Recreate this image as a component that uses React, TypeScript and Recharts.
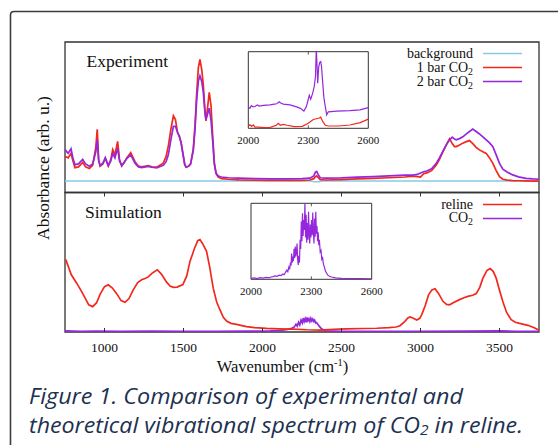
import React from 'react';
import { LineChart, Line, XAxis, YAxis, ReferenceArea } from 'recharts';

const W = 558;
const H = 445;
const RED = '#f2281c';
const PURPLE = '#9527dc';
const BLUE = '#87c9e8';
const FRAME = '#333333';
const SERIF = '"Liberation Serif", "DejaVu Serif", serif';

// ---------- Experiment panel (wavenumber, absorbance in arb. u.) ----------
const expWavenumber = [
  750, 770, 788, 800, 813, 835, 862, 880, 904, 925,
  945, 954, 963, 972, 990, 1005, 1024, 1040, 1052, 1066,
  1083, 1095, 1109, 1125, 1141, 1166, 1193, 1215, 1235, 1277,
  1300, 1330, 1372, 1390, 1404, 1420, 1436, 1449, 1462, 1474,
  1485, 1496, 1508, 1517, 1533, 1545, 1562, 1573, 1583, 1594,
  1604, 1615, 1625, 1636, 1642, 1652, 1663, 1674, 1685, 1695,
  1706, 1720, 1740, 1784, 1850, 1950, 2050, 2150, 2250, 2300,
  2325, 2335, 2343, 2352, 2365, 2400, 2500, 2600, 2700, 2800,
  2900, 2952, 2980, 3000, 3020, 3040, 3070, 3100, 3120, 3142,
  3165, 3184, 3201, 3215, 3226, 3247, 3268, 3290, 3310, 3331,
  3352, 3373, 3395, 3416, 3437, 3458, 3479, 3500, 3521, 3550,
  3584, 3620, 3668, 3710, 3750,
];
const exp1bar = [
  24, 23, 26, 21, 16.5, 17, 20, 17, 16, 18,
  30, 42, 22, 17.5, 19, 23, 17.5, 22, 28.5, 25,
  34, 22, 17.5, 20, 23, 26.5, 20.5, 17.5, 17, 17.8,
  17, 16.8, 19.5, 24, 31, 42, 51, 48.5, 40, 37.5,
  33, 26, 18.5, 16.8, 17.5, 19, 29, 45, 65, 83,
  88.5, 82, 72, 54, 47.5, 56, 66.5, 58, 37, 20,
  12.5, 10.2, 9.2, 8.8, 8.4, 8.2, 8.0, 8.0, 8.1, 8.3,
  9.2, 10.5, 11, 10, 8.6, 8.3, 8.6, 9, 9.4, 9.8,
  10.3, 10.8, 10.5, 10.3, 12.5, 13, 14.5, 18.3, 22, 27.2,
  32, 35.7, 32.5, 30.5, 30.5, 31.5, 32.8, 33.8, 34.5, 32.5,
  30, 28.3, 27, 26, 23, 19.4, 14.5, 10.5, 8.8, 8.2,
  7.9, 7.8, 7.7, 7.6, 7.6,
];
const exp2bar = [
  28.5, 26, 29, 23, 18.5, 19, 22, 19, 17.5, 19,
  27, 35, 21, 18, 19.5, 23, 18, 21, 26, 23,
  29.5, 21, 18, 20, 22.5, 25, 19.5, 17, 16.5, 17.3,
  16.8, 16.3, 18, 20.5, 25, 35, 44, 44, 40, 37,
  33, 26, 18.5, 16.8, 17.5, 19, 28, 42, 61, 74,
  77.5, 74, 67, 53, 48.5, 52, 56, 48, 34, 19,
  13, 11, 10.3, 9.8, 9.6, 9.3, 9.0, 9.0, 9.2, 9.5,
  11, 13.5, 14, 12, 9.8, 9.5, 9.7, 10.2, 10.6, 11,
  11.5, 11.5, 12, 13, 13.8, 14.3, 15.8, 19.4, 23, 27.5,
  32, 35, 36.8, 35.5, 35, 35.8, 37, 39, 40.5, 42.1,
  40.5, 38.9, 37, 35, 33, 30.5, 25, 19.4, 15.5, 13.5,
  11.7, 10.4, 9.4, 9.0, 8.8,
];
const bgWavenumber = [750, 2300, 2330, 2355, 2380, 3750];
const bgValues = [7.6, 7.6, 7.1, 7.1, 7.6, 7.6];

// ---------- Experiment inset (2000-2600 cm-1) ----------
const insetExpX = [
  2000, 2008, 2015, 2025, 2033, 2045, 2055, 2075, 2108, 2130,
  2142, 2155, 2162, 2175, 2208, 2242, 2260, 2278, 2290, 2295,
  2305, 2312, 2322, 2330, 2336, 2340, 2344, 2347, 2352, 2357,
  2362, 2366, 2372, 2378, 2384, 2392, 2400, 2442, 2508, 2558,
  2600,
];
const inset2bar = [
  28, 26, 29.5, 28, 28.5, 30.5, 29, 30, 30.5, 31.5,
  32, 34.5, 33, 31.5, 30.5, 28, 26, 22.5, 28, 33,
  43, 38, 46, 55, 68, 105, 80, 59, 80, 86,
  87, 81, 60, 40, 30, 17.5, 21.5, 22.5, 23, 24,
  27,
];
const insetRedX = [
  2000, 2008, 2017, 2025, 2033, 2050, 2080, 2110, 2140, 2150,
  2160, 2175, 2195, 2230, 2270, 2300, 2325, 2340, 2355, 2362,
  2372, 2385, 2400, 2450, 2508, 2560, 2600,
];
const inset1bar = [
  3, 4.5, 2.5, 4.5, 1.5, 1.5, 0.8, 1.2, 4, 6.5,
  4, 5.2, 4, 2.2, 2.5, 6.5, 11.5, 12.5, 13.5, 14.5,
  9, 4, 3, 3, 4.3, 7.5, 12,
];

// ---------- Simulation panel ----------
const simX = [
  750, 756, 790, 824, 850, 877, 900, 925, 950, 972,
  1000, 1024, 1050, 1077, 1105, 1130, 1155, 1182, 1210, 1235,
  1260, 1277, 1300, 1334, 1360, 1393, 1415, 1436, 1460, 1496,
  1520, 1541, 1570, 1590, 1604, 1620, 1646, 1665, 1688, 1710,
  1731, 1752, 1773, 1800, 1836, 1870, 1899, 1950, 2026, 2100,
  2195, 2280, 2364, 2450, 2533, 2640, 2723, 2800, 2845, 2870,
  2900, 2920, 2934, 2955, 2976, 2995, 3008, 3030, 3051, 3072,
  3092, 3115, 3142, 3165, 3184, 3210, 3247, 3275, 3300, 3330,
  3353, 3375, 3395, 3420, 3441, 3460, 3479, 3500, 3521, 3545,
  3574, 3600, 3627, 3680, 3720, 3750,
];
const reline = [
  52, 51.5, 41, 35, 30, 24.5, 19.5, 18.2, 21, 27,
  32.5, 33.8, 31.5, 27.5, 22.5, 21.3, 24, 30.2, 35.5, 37.4,
  38.5, 39.5, 42, 44.6, 41.5, 35.7, 33, 32, 32.2, 34,
  40, 50.6, 60, 65.5, 66.2, 63.5, 57.8, 47, 31.4, 21.5,
  15.8, 10.5, 7.8, 6.2, 5.5, 4.6, 3.9, 3.1, 2.6, 2.3,
  2.1, 1.6, 1.4, 1.9, 2.2, 2.5, 2.7, 3.1, 3.6, 4.5,
  7.5, 10, 10.8, 9.8, 8.6, 9.8, 12.5, 19, 26.6, 30.2,
  31, 27.5, 22, 19.8, 19.5, 21.2, 23.2, 24.5, 25.5, 26.3,
  27.5, 32, 38.6, 44, 45.5, 43.5, 38.6, 30, 21.8, 14,
  8.8, 7, 6.2, 4.8, 3, 1.2,
];
const simCO2X = [
  750, 850, 950, 1100, 1300, 1500, 1700, 1900, 2050, 2100,
  2150, 2180, 2200, 2212, 2220, 2228, 2236, 2244, 2252, 2258,
  2264, 2270, 2276, 2282, 2288, 2294, 2300, 2306, 2312, 2318,
  2324, 2330, 2336, 2342, 2350, 2360, 2372, 2385, 2400, 2500,
  2700, 3000, 3300, 3500, 3600, 3750,
];
const simCO2 = [
  0.8, 0.4, 0.6, 0.5, 0.6, 0.4, 0.5, 0.6, 0.8, 1.0,
  1.6, 2.4, 3.5, 5.5, 4.2, 7, 5, 8.5, 6.5, 10,
  7.5, 9.5, 7, 10.5, 8, 9.5, 7.5, 9.8, 8, 9.3,
  7.5, 8.5, 6.5, 6.8, 5.5, 4, 2.5, 1.4, 0.8, 0.5,
  0.4, 0.5, 0.6, 0.8, 0.5, 0.5,
];

// ---------- Simulation inset ----------
const insetSimX = [
  2000, 2015, 2030, 2045, 2060, 2075, 2090, 2100, 2110, 2120,
  2130, 2140, 2150, 2158, 2165, 2172, 2178, 2183, 2188, 2192,
  2196, 2199, 2202, 2205, 2208, 2211, 2214, 2217, 2220, 2223,
  2226, 2229, 2232, 2235, 2238, 2241, 2244, 2247, 2250, 2253,
  2256, 2259, 2262, 2265, 2268, 2271, 2274, 2277, 2280, 2283,
  2286, 2289, 2292, 2295, 2298, 2301, 2304, 2307, 2310, 2313,
  2316, 2319, 2322, 2325, 2328, 2331, 2334, 2337, 2340, 2344,
  2348, 2352, 2356, 2360, 2365, 2370, 2376, 2382, 2390, 2400,
  2420, 2450, 2500, 2550, 2600,
];
const insetSimCO2 = [
  1.3, 1.8, 1.0, 2.2, 1.6, 2.5, 2.0, 3.0, 3.5, 4.5,
  4.0, 5.5, 5.0, 7.0, 6.0, 9.5, 12, 10, 16, 13,
  22, 18, 34, 22, 30, 24, 40, 28, 43, 30,
  36, 47, 26, 19, 31, 22, 52, 40, 76, 50,
  87, 57, 78, 65, 100, 55, 85, 48, 74, 52,
  89, 60, 47, 72, 55, 78, 58, 88, 62, 47,
  80, 56, 89, 60, 70, 50, 62, 45, 52, 36,
  38, 26, 28, 20, 16, 11, 8, 5.5, 4, 3,
  2, 1.3, 1.0, 0.8, 0.6,
];

const mainTicks = [1000, 1500, 2000, 2500, 3000, 3500];
const insetTicks = [2000, 2300, 2600];
const mainDomain: [number, number] = [750, 3750];
const insetDomain: [number, number] = [2000, 2600];

const pts = (xs: number[], ys: number[]) => xs.map((x, i) => ({ x, y: ys[i] }));

const abs: React.CSSProperties = { position: 'absolute', left: 0, top: 0 };

const MID_Y = 192.5;

const MainTick = (props: any) => {
  const { x, y, payload } = props;
  return (
    <g>
      <line x1={x} x2={x} y1={y} y2={y - 4} stroke={FRAME} strokeWidth={1} />
      <line x1={x} x2={x} y1={MID_Y} y2={MID_Y + 4} stroke={FRAME} strokeWidth={1} />
      <text x={x} y={y + 19.5} textAnchor="middle" fontSize={13.5} fontFamily={SERIF} fill="#111">
        {payload.value}
      </text>
    </g>
  );
};

const makeInsetTick = (topY: number) => (props: any) => {
  const { x, y, payload } = props;
  const mid = payload.value === 2300;
  return (
    <g>
      {mid && <line x1={x} x2={x} y1={y} y2={y - 3} stroke={FRAME} strokeWidth={0.8} />}
      {mid && <line x1={x} x2={x} y1={topY} y2={topY + 3} stroke={FRAME} strokeWidth={0.8} />}
      <text x={x} y={y + 15.5} textAnchor="middle" fontSize={11} fontFamily={SERIF} fill="#111">
        {payload.value}
      </text>
    </g>
  );
};
const TopInsetTick = makeInsetTick(51.7);
const BotInsetTick = makeInsetTick(203.3);

const CO2 = ({ size }: { size: number }) => (
  <>
    CO<tspan fontSize={size * 0.7} dy={3}>2</tspan>
  </>
);

const LEG = 14;

export default function App() {
  return (
    <div style={{ position: 'absolute', left: 0, top: 0, width: W, height: H, background: '#fff', overflow: 'hidden' }}>
      {/* Experiment panel */}
      <div style={abs}>
        <LineChart width={W} height={H} margin={{ top: 42, left: 65, right: 19, bottom: H - MID_Y }}>
          <XAxis type="number" dataKey="x" domain={mainDomain} hide allowDataOverflow />
          <YAxis type="number" domain={[0, 100]} hide allowDataOverflow />
          <ReferenceArea x1={750} x2={3750} y1={0} y2={100} fill="none" stroke={FRAME} strokeWidth={1.3} ifOverflow="visible" />
          <Line data={pts(bgWavenumber, bgValues)} dataKey="y" stroke={BLUE} strokeWidth={1.6} dot={false} isAnimationActive={false} />
          <Line data={pts(expWavenumber, exp1bar)} dataKey="y" stroke={RED} strokeWidth={1.7} dot={false} isAnimationActive={false} />
          <Line data={pts(expWavenumber, exp2bar)} dataKey="y" stroke={PURPLE} strokeWidth={1.7} dot={false} isAnimationActive={false} />
        </LineChart>
      </div>

      {/* Simulation panel */}
      <div style={abs}>
        <LineChart width={W} height={H} margin={{ top: MID_Y, left: 65, right: 19, bottom: H - 332 - 30 }}>
          <XAxis
            type="number"
            dataKey="x"
            domain={mainDomain}
            ticks={mainTicks}
            interval={0}
            height={30}
            axisLine={false}
            tickLine={false}
            tickSize={0}
            tickMargin={0}
            tick={<MainTick />}
            allowDataOverflow
          />
          <YAxis type="number" domain={[0, 100]} hide allowDataOverflow />
          <ReferenceArea x1={750} x2={3750} y1={0} y2={100} fill="none" stroke={FRAME} strokeWidth={1.3} ifOverflow="visible" />
          <Line data={pts(simCO2X, simCO2)} dataKey="y" stroke={PURPLE} strokeWidth={1.7} dot={false} isAnimationActive={false} />
          <Line data={pts(simX, reline)} dataKey="y" stroke={RED} strokeWidth={1.7} dot={false} isAnimationActive={false} />
        </LineChart>
      </div>

      {/* Experiment inset */}
      <div style={abs}>
        <LineChart width={W} height={H} margin={{ top: 51.7, left: 248.3, right: W - 368.3, bottom: H - 128.3 - 20 }}>
          <XAxis
            type="number"
            dataKey="x"
            domain={insetDomain}
            ticks={insetTicks}
            interval={0}
            height={20}
            axisLine={false}
            tickLine={false}
            tickSize={0}
            tickMargin={0}
            tick={<TopInsetTick />}
            allowDataOverflow
          />
          <YAxis type="number" domain={[0, 100]} hide allowDataOverflow />
          <ReferenceArea x1={2000} x2={2600} y1={0} y2={100} fill="#fff" fillOpacity={1} stroke={FRAME} strokeWidth={1} ifOverflow="visible" />
          <Line data={pts(insetRedX, inset1bar)} dataKey="y" stroke={RED} strokeWidth={1.2} dot={false} isAnimationActive={false} />
          <Line data={pts(insetExpX, inset2bar)} dataKey="y" stroke={PURPLE} strokeWidth={1.2} dot={false} isAnimationActive={false} />
        </LineChart>
      </div>

      {/* Simulation inset */}
      <div style={abs}>
        <LineChart width={W} height={H} margin={{ top: 203.3, left: 251, right: W - 371.7, bottom: H - 279.3 - 20 }}>
          <XAxis
            type="number"
            dataKey="x"
            domain={insetDomain}
            ticks={insetTicks}
            interval={0}
            height={20}
            axisLine={false}
            tickLine={false}
            tickSize={0}
            tickMargin={0}
            tick={<BotInsetTick />}
            allowDataOverflow
          />
          <YAxis type="number" domain={[0, 100]} hide allowDataOverflow />
          <ReferenceArea x1={2000} x2={2600} y1={0} y2={100} fill="#fff" fillOpacity={1} stroke={FRAME} strokeWidth={1} ifOverflow="visible" />
          <Line data={pts(insetSimX, insetSimCO2)} dataKey="y" stroke={PURPLE} strokeWidth={1.2} dot={false} isAnimationActive={false} />
        </LineChart>
      </div>

      {/* Labels, legends, caption */}
      <svg width={W} height={H} style={{ ...abs, pointerEvents: 'none' }}>
        <path d="M10.5,445 V15 Q10.5,11.5 14,11.5 H558" fill="none" stroke="#3c3c3c" strokeWidth={1.6} />

        <text x={86.5} y={67} fontSize={17.5} fontFamily={SERIF} fill="#111">Experiment</text>
        <text x={85} y={218} fontSize={17.5} fontFamily={SERIF} fill="#111">Simulation</text>

        <g fontFamily={SERIF} fontSize={LEG} fill="#111" textAnchor="end">
          <text x={473} y={57.5}>background</text>
          <text x={473} y={71.5}>1 bar <CO2 size={LEG} /></text>
          <text x={473} y={85.5}>2 bar <CO2 size={LEG} /></text>
          <text x={473} y={208.5}>reline</text>
          <text x={473} y={222}><CO2 size={LEG} /></text>
        </g>
        <line x1={483} x2={522} y1={53.5} y2={53.5} stroke={BLUE} strokeWidth={1.6} />
        <line x1={483} x2={522} y1={67.5} y2={67.5} stroke={RED} strokeWidth={1.7} />
        <line x1={483} x2={522} y1={81.5} y2={81.5} stroke={PURPLE} strokeWidth={1.7} />
        <line x1={483} x2={522} y1={204.5} y2={204.5} stroke={RED} strokeWidth={1.7} />
        <line x1={483} x2={522} y1={218.5} y2={218.5} stroke={PURPLE} strokeWidth={1.7} />

        <text
          x={43}
          y={168}
          fontSize={17.5}
          fontFamily={SERIF}
          fill="#111"
          textAnchor="middle"
          dominantBaseline="central"
          transform="rotate(-90, 43, 168)"
        >
          Absorbance  (arb. u.)
        </text>
        <text x={282.5} y={372} fontSize={16.5} fontFamily={SERIF} fill="#111" textAnchor="middle">
          Wavenumber (cm<tspan fontSize={10.5} dy={-6}>-1</tspan><tspan dy={6}>)</tspan>
        </text>

        <g fontFamily='"Open Sans", "Noto Sans", sans-serif' fontStyle="italic" fontSize={21} fill="#1d3150">
          <text x={29} y={404} textLength={434} lengthAdjust="spacingAndGlyphs">
            Figure 1. Comparison of experimental and
          </text>
          <text x={29} y={433} textLength={494} lengthAdjust="spacingAndGlyphs">
            theoretical vibrational spectrum of CO<tspan fontSize={14} dy={2}>2</tspan><tspan dy={-2}> in reline.</tspan>
          </text>
        </g>
      </svg>
    </div>
  );
}
